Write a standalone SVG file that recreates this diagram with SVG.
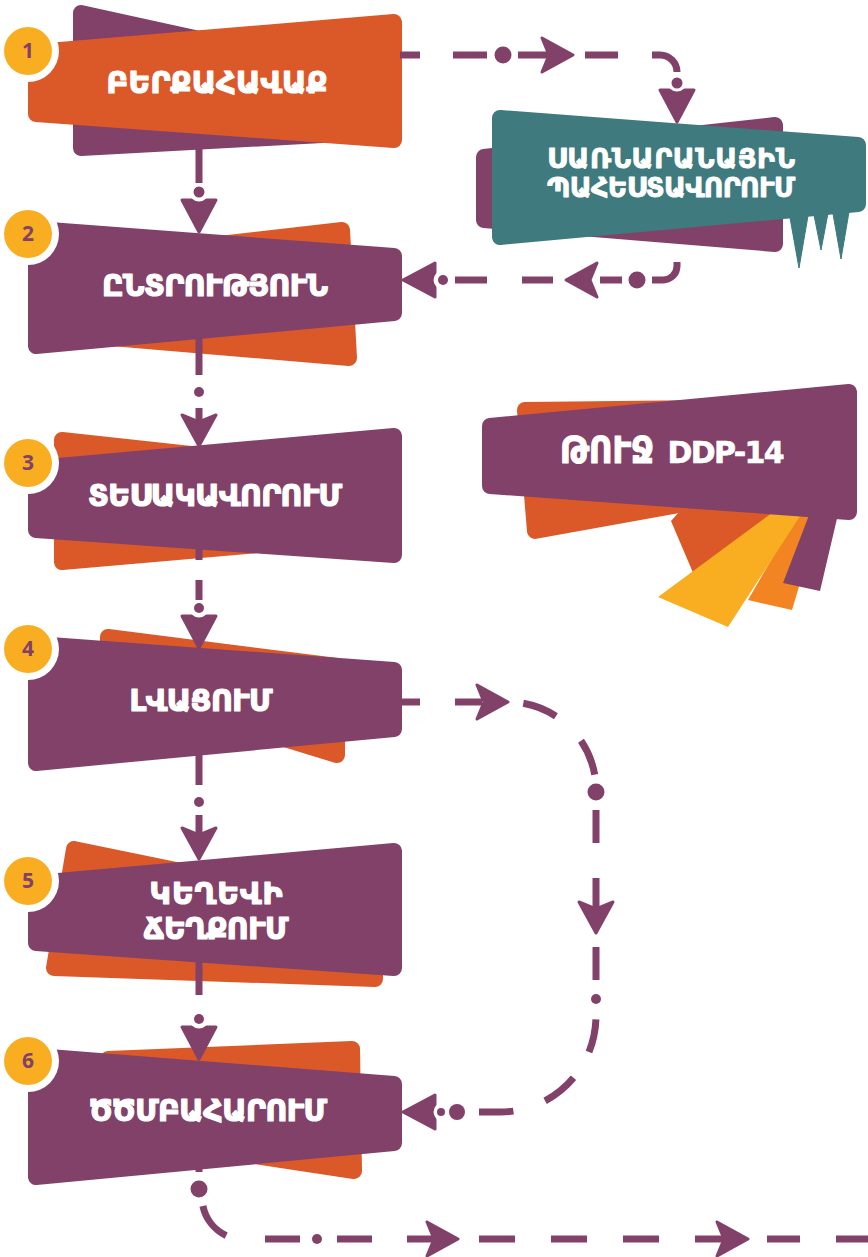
<svg xmlns="http://www.w3.org/2000/svg" xmlns:xlink="http://www.w3.org/1999/xlink" width="868" height="1257" viewBox="0 0 868 1257">
  <style>
    .p{fill:#824168;stroke:#824168}
    .o{fill:#DB5828;stroke:#DB5828}
    .t{fill:#3E7A7E;stroke:#3E7A7E}
    .s{stroke-width:16;stroke-linejoin:round}
    .ring{fill:#fff}
    .bdg{fill:#F9AE22}
    .num{font-family:"Open Sans","DejaVu Sans",sans-serif;font-weight:700;font-size:21px;fill:#824168;text-anchor:middle}
    .lbl{font-family:"DejaVu Sans","Noto Sans",sans-serif;font-weight:700;font-size:30px;fill:#fff;stroke:#fff;stroke-width:1.2;stroke-linejoin:round;text-anchor:middle}
    .sm{font-size:27px;stroke-width:0.8}
    .lat{font-size:30px;stroke-width:0.6}
    .arm{font-size:38px}
    .ln{stroke:#824168;stroke-width:7;fill:none}
    .dot{fill:#824168}
    .ah{fill:#824168;stroke:#824168;stroke-width:3;stroke-linejoin:round}
  </style>
  <defs>
    <!-- arrowheads point along +x with the tip at the origin -->
    <path id="ahS" d="M-31,-17 L0,0 L-31,17 L-24,0 Z"/>
    <path id="ahN" d="M-32,-17 L0,0 L-32,17 L-32,7.5 A11 11 0 0 0 -32,-7.5 Z"/>
  </defs>

  <!-- step 1 -->
  <g id="node-1">
    <polygon class="p s" points="81,13 322,66 322,135 81,148"/>
    <polygon class="o s" points="36,52 394,22 394,140 36,114"/>
    <circle class="ring" cx="28" cy="51" r="31"/>
    <circle class="bdg" cx="28" cy="51" r="24"/>
    <text class="num" x="28" y="58">1</text>
    <text class="lbl" x="217" y="93" textLength="221">ԲԵՐՔԱՀԱՎԱՔ</text>
  </g>

  <!-- step 2 -->
  <g id="node-2">
    <polygon class="o s" points="88,259 342,230 349,358 88,336"/>
    <polygon class="p s" points="36,229 394,256 394,313 36,346"/>
    <circle class="ring" cx="28" cy="234" r="31"/>
    <circle class="bdg" cx="28" cy="234" r="24"/>
    <text class="num" x="28" y="241">2</text>
    <text class="lbl" x="215" y="296" textLength="226">ԸՆՏՐՈՒԹՅՈՒՆ</text>
  </g>

  <!-- step 3 -->
  <g id="node-3">
    <polygon class="o s" points="62,440 292,465 292,542 62,562"/>
    <polygon class="p s" points="36,468 394,436 394,555 36,530"/>
    <circle class="ring" cx="28" cy="463" r="31"/>
    <circle class="bdg" cx="28" cy="463" r="24"/>
    <text class="num" x="28" y="470">3</text>
    <text class="lbl" x="215" y="506" textLength="254">ՏԵՍԱԿԱՎՈՐՈՒՄ</text>
  </g>

  <!-- step 4 -->
  <g id="node-4">
    <polygon class="o s" points="108,637 337,666 337,755 108,685"/>
    <polygon class="p s" points="36,644 394,670 394,729 36,763"/>
    <circle class="ring" cx="28" cy="649" r="31"/>
    <circle class="bdg" cx="28" cy="649" r="24"/>
    <text class="num" x="28" y="656">4</text>
    <text class="lbl" x="201" y="711" textLength="143">ԼՎԱՑՈՒՄ</text>
  </g>

  <!-- step 5 -->
  <g id="node-5">
    <polygon class="o s" points="74,849 375,911 375,979 54,968"/>
    <polygon class="p s" points="36,883 394,851 394,968 36,943"/>
    <circle class="ring" cx="28" cy="881" r="31"/>
    <circle class="bdg" cx="28" cy="881" r="24"/>
    <text class="num" x="28" y="888">5</text>
    <text class="lbl" x="216" y="904" textLength="133">ԿԵՂԵՎԻ</text>
    <text class="lbl" x="216" y="939" textLength="145">ՃԵՂՔՈՒՄ</text>
  </g>

  <!-- step 6 -->
  <g id="node-6">
    <polygon class="o s" points="108,1059 352,1049 354,1171 108,1134"/>
    <polygon class="p s" points="36,1056 394,1084 394,1143 36,1177"/>
    <circle class="ring" cx="28" cy="1061" r="31"/>
    <circle class="bdg" cx="28" cy="1061" r="24"/>
    <text class="num" x="28" y="1068">6</text>
    <text class="lbl" x="208" y="1121" textLength="238">ԾԾՄԲԱՀԱՐՈՒՄ</text>
  </g>

  <!-- sanitary preparation (side step) -->
  <g id="node-sanitary">
    <polygon class="p s" points="484,157 775,125 775,244 484,220"/>
    <polygon class="t s" points="500,118 858,145 858,204 500,237"/>
    <polygon class="t" points="789,212 799,268 809,210"/>
    <polygon class="t" points="813,210 821,250 829,208"/>
    <polygon class="t" points="832,208 841,259 850,206"/>
    <text class="lbl sm" x="671" y="168" textLength="248">ՍԱՌՆԱՐԱՆԱՅԻՆ</text>
    <text class="lbl sm" x="671" y="197" textLength="248">ՊԱՀԵՍՏԱՎՈՐՈՒՄ</text>
  </g>

  <!-- DDP-14 title card -->
  <g id="node-ddp">
    <polygon class="o s" points="525,410 712,408 712,499 535,531"/>
    <polygon fill="#DB5828" points="671,521 697,582 778,508 690,500"/>
    <polygon fill="#F28522" points="800,510 822,510 792,610 748,600"/>
    <polygon fill="#F9AE22" points="776,510 804,510 728,627 658,597"/>
    <polygon fill="#824168" points="811,510 839,510 820,591 783,583"/>
    <polygon class="p s" points="490,426 849,392 849,512 490,486"/>
    <text class="lbl" y="463"><tspan class="arm" x="607" textLength="94" lengthAdjust="spacingAndGlyphs">ԹՈՒՋ</tspan><tspan class="lat" x="726" textLength="117">DDP-14</tspan></text>
  </g>

  <g id="connectors">
    <!-- 1 -> 2 -->
    <line class="ln" x1="199" y1="146" x2="199" y2="183"/>
    <circle class="dot" cx="199" cy="192" r="5.5"/>
    <use class="ah" xlink:href="#ahN" transform="translate(199,232) rotate(90)"/>

    <!-- 1 -> sanitary -->
    <line class="ln" x1="400" y1="55" x2="420" y2="55"/>
    <line class="ln" x1="453" y1="55" x2="487" y2="55"/>
    <circle class="dot" cx="503" cy="55" r="8.5"/>
    <line class="ln" x1="518" y1="55" x2="552" y2="55"/>
    <use class="ah" xlink:href="#ahS" transform="translate(573,55)"/>
    <line class="ln" x1="585" y1="55" x2="618" y2="55"/>
    <path class="ln" d="M652,55 H660 A17 17 0 0 1 677 72"/>
    <circle class="dot" cx="677" cy="83" r="5.5"/>
    <use class="ah" xlink:href="#ahN" transform="translate(677,122) rotate(90)"/>

    <!-- sanitary -> 2 -->
    <path class="ln" d="M677,262 V266 A14 14 0 0 1 663 280 H652"/>
    <circle class="dot" cx="637" cy="280" r="8.5"/>
    <line class="ln" x1="600" y1="280" x2="622" y2="280"/>
    <use class="ah" xlink:href="#ahS" transform="translate(566,280) rotate(180)"/>
    <line class="ln" x1="522" y1="280" x2="553" y2="280"/>
    <line class="ln" x1="455" y1="280" x2="487" y2="280"/>
    <circle class="dot" cx="443" cy="280" r="5"/>
    <use class="ah" xlink:href="#ahN" transform="translate(403,280) rotate(180)"/>

    <!-- 2 -> 3 -->
    <line class="ln" x1="199" y1="336" x2="199" y2="375"/>
    <circle class="dot" cx="199" cy="392" r="5"/>
    <line class="ln" x1="199" y1="408" x2="199" y2="422"/>
    <use class="ah" xlink:href="#ahS" transform="translate(199,446) rotate(90)"/>

    <!-- 3 -> 4 -->
    <line class="ln" x1="199" y1="548" x2="199" y2="560"/>
    <line class="ln" x1="199" y1="580" x2="199" y2="600"/>
    <circle class="dot" cx="199" cy="608" r="5"/>
    <use class="ah" xlink:href="#ahN" transform="translate(199,648) rotate(90)"/>

    <!-- 4 -> 5 -->
    <line class="ln" x1="199" y1="754" x2="199" y2="785"/>
    <circle class="dot" cx="199" cy="802" r="5"/>
    <line class="ln" x1="199" y1="815" x2="199" y2="834"/>
    <use class="ah" xlink:href="#ahS" transform="translate(199,859) rotate(90)"/>

    <!-- 5 -> 6 -->
    <line class="ln" x1="199" y1="961" x2="199" y2="995"/>
    <circle class="dot" cx="199" cy="1019" r="5"/>
    <use class="ah" xlink:href="#ahN" transform="translate(199,1059) rotate(90)"/>

    <!-- 4 -> 6 loop on the right -->
    <line class="ln" x1="402" y1="702" x2="420" y2="702"/>
    <line class="ln" x1="455" y1="702" x2="482" y2="702"/>
    <use class="ah" xlink:href="#ahS" transform="translate(508,702)"/>
    <path class="ln" d="M523.3,703.3 A88 88 0 0 1 555.9,716.2"/>
    <path class="ln" d="M581,740.8 A88 88 0 0 1 594.7,774.7"/>
    <circle class="dot" cx="596" cy="792" r="8.5"/>
    <line class="ln" x1="596" y1="810" x2="596" y2="843"/>
    <line class="ln" x1="596" y1="878" x2="596" y2="910"/>
    <use class="ah" xlink:href="#ahS" transform="translate(596,933) rotate(90)"/>
    <line class="ln" x1="596" y1="947" x2="596" y2="980"/>
    <circle class="dot" cx="596" cy="999" r="5"/>
    <path class="ln" d="M595.9,1019.4 A96 96 0 0 1 589,1052"/>
    <path class="ln" d="M573.5,1077.7 A96 96 0 0 1 545.1,1100.8"/>
    <path class="ln" d="M513.4,1111.1 A96 96 0 0 1 500,1112 H479"/>
    <circle class="dot" cx="457" cy="1112" r="8"/>
    <circle class="dot" cx="441" cy="1112" r="4"/>
    <use class="ah" xlink:href="#ahN" transform="translate(403,1112) rotate(180)"/>

    <!-- 6 -> onward -->
    <line class="ln" x1="199" y1="1164" x2="199" y2="1172"/>
    <circle class="dot" cx="199" cy="1189" r="8.5"/>
    <path class="ln" d="M202.9,1205.9 A43 43 0 0 0 226.2,1235.6"/>
    <line class="ln" x1="265" y1="1239" x2="300" y2="1239"/>
    <circle class="dot" cx="317" cy="1239" r="5"/>
    <line class="ln" x1="337" y1="1239" x2="372" y2="1239"/>
    <line class="ln" x1="407" y1="1239" x2="434" y2="1239"/>
    <use class="ah" xlink:href="#ahS" transform="translate(458,1239)"/>
    <line class="ln" x1="479" y1="1239" x2="515" y2="1239"/>
    <line class="ln" x1="551" y1="1239" x2="587" y2="1239"/>
    <line class="ln" x1="623" y1="1239" x2="659" y2="1239"/>
    <line class="ln" x1="695" y1="1239" x2="724" y2="1239"/>
    <use class="ah" xlink:href="#ahS" transform="translate(748,1239)"/>
    <line class="ln" x1="767" y1="1239" x2="800" y2="1239"/>
    <line class="ln" x1="836" y1="1239" x2="868" y2="1239"/>
  </g>
</svg>
